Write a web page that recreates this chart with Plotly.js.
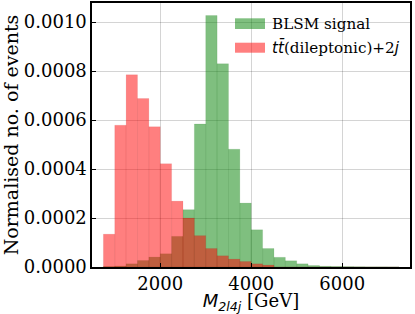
<!DOCTYPE html>
<html>
<head>
<meta charset="utf-8">
<script src="https://cdn.plot.ly/plotly-3.0.1.min.js"></script>
<style>html,body{margin:0;padding:0;background:#fff;}#chart{width:415px;height:314px;}</style>
</head>
<body>
<div id="chart"></div>
<script>
// Bin centres of M_{2l4j} [GeV] (bin width 250 GeV)
var binCenters = [875, 1125, 1375, 1625, 1875, 2125, 2375, 2625, 2875, 3125, 3375, 3625, 3875, 4125, 4375, 4625, 4875, 5125, 5375, 5625, 5875, 6125, 6375, 6625, 6875, 7125];
var binWidth = 250;
// Normalised counts
var signalValues = [0.000002, 0.000004, 0.000013, 0.0000266, 0.0000405, 0.000054, 0.000125, 0.000234, 0.000584, 0.001027, 0.00083, 0.000481, 0.000261, 0.000152, 0.0000755, 0.0000395, 0.0000254, 0.000013, 0.000006, 0.000003, 0.000002, 0.0000015, 0.000001, 0.0000005, 0.0000005, 0.0000003];
var backgroundValues = [0.000134, 0.000579, 0.000785, 0.000688, 0.000573, 0.000422, 0.000269, 0.0002, 0.000128, 0.0000755, 0.0000458, 0.0000323, 0.0000225, 0.000013, 0.000008, 0, 0, 0, 0, 0, 0, 0, 0, 0, 0, 0];
var seriesNames = ['BLSM signal', '<span style="font-family:\'DejaVu Sans\'"><i>t</i><i>t\u0304</i></span>(dileptonic)+2<span style="font-family:\'DejaVu Sans\'"><i>j</i></span>'];
var seriesColors = ['rgba(0,128,0,0.5)', 'rgba(255,0,0,0.5)'];
var yTickVals = [0, 0.0002, 0.0004, 0.0006, 0.0008, 0.0010];
var xTickVals = [2000, 4000, 6000];

var serif = 'DejaVu Serif';
var traces = [
  {type: 'bar', x: binCenters, y: signalValues, width: binWidth, name: seriesNames[0],
   marker: {color: seriesColors[0], line: {width: 0.4, color: 'rgba(0,100,0,0.25)'}}},
  {type: 'bar', x: binCenters, y: backgroundValues, width: binWidth, name: seriesNames[1],
   marker: {color: seriesColors[1], line: {width: 0.4, color: 'rgba(150,0,0,0.2)'}}}
];
var axisCommon = {
  showline: true, linecolor: '#000', linewidth: 1.6, mirror: true,
  ticks: 'inside', ticklen: 4, tickwidth: 1, tickcolor: '#000',
  showgrid: true, gridcolor: 'rgba(0,0,0,0.17)', gridwidth: 1, zeroline: false,
  tickfont: {family: serif, size: 18, color: '#000'}
};

// Legend drawn as patches + labels (matplotlib-style wide patches)
var legendShapes = [], legendNotes = [];
var legendRows = [{y0: 0.9015, y1: 0.942, ty: 0.9205}, {y0: 0.8117, y1: 0.8496, ty: 0.8307}];
legendRows.forEach(function (r, i) {
  legendShapes.push({type: 'rect', xref: 'x domain', yref: 'y domain', x0: 0.4497, x1: 0.544, y0: r.y0, y1: r.y1,
                     fillcolor: seriesColors[i], line: {width: 0}});
  legendNotes.push({xref: 'x domain', yref: 'y domain', x: 0.5597, y: r.ty, xanchor: 'left', yanchor: 'middle',
                    showarrow: false, text: seriesNames[i], font: {family: serif, size: 15.2, color: '#000'}});
});

var layout = {
  width: 415, height: 314,
  margin: {l: 92, r: 5, t: 3, b: 47},
  paper_bgcolor: '#fff', plot_bgcolor: '#fff',
  barmode: 'overlay', bargap: 0,
  font: {family: serif, color: '#000'},
  xaxis: Object.assign({}, axisCommon, {
    range: [500, 7490], tickvals: xTickVals, ticktext: xTickVals.map(String),
    title: {text: '<span style="font-family:\'DejaVu Sans\'"><i>M</i><sub><i>2l4j</i></sub></span>&nbsp;[GeV]', font: {family: serif, size: 18, color: '#000'}, standoff: 3}
  }),
  yaxis: Object.assign({}, axisCommon, {
    range: [0, 0.001078], tickvals: yTickVals, tickformat: '.4f',
    title: {text: 'Normalised no. of events', font: {family: serif, size: 19, color: '#000'}, standoff: 4}
  }),
  showlegend: false,
  shapes: legendShapes,
  annotations: legendNotes
};
Plotly.newPlot('chart', traces, layout, {displayModeBar: false, staticPlot: true});
</script>
</body>
</html>
